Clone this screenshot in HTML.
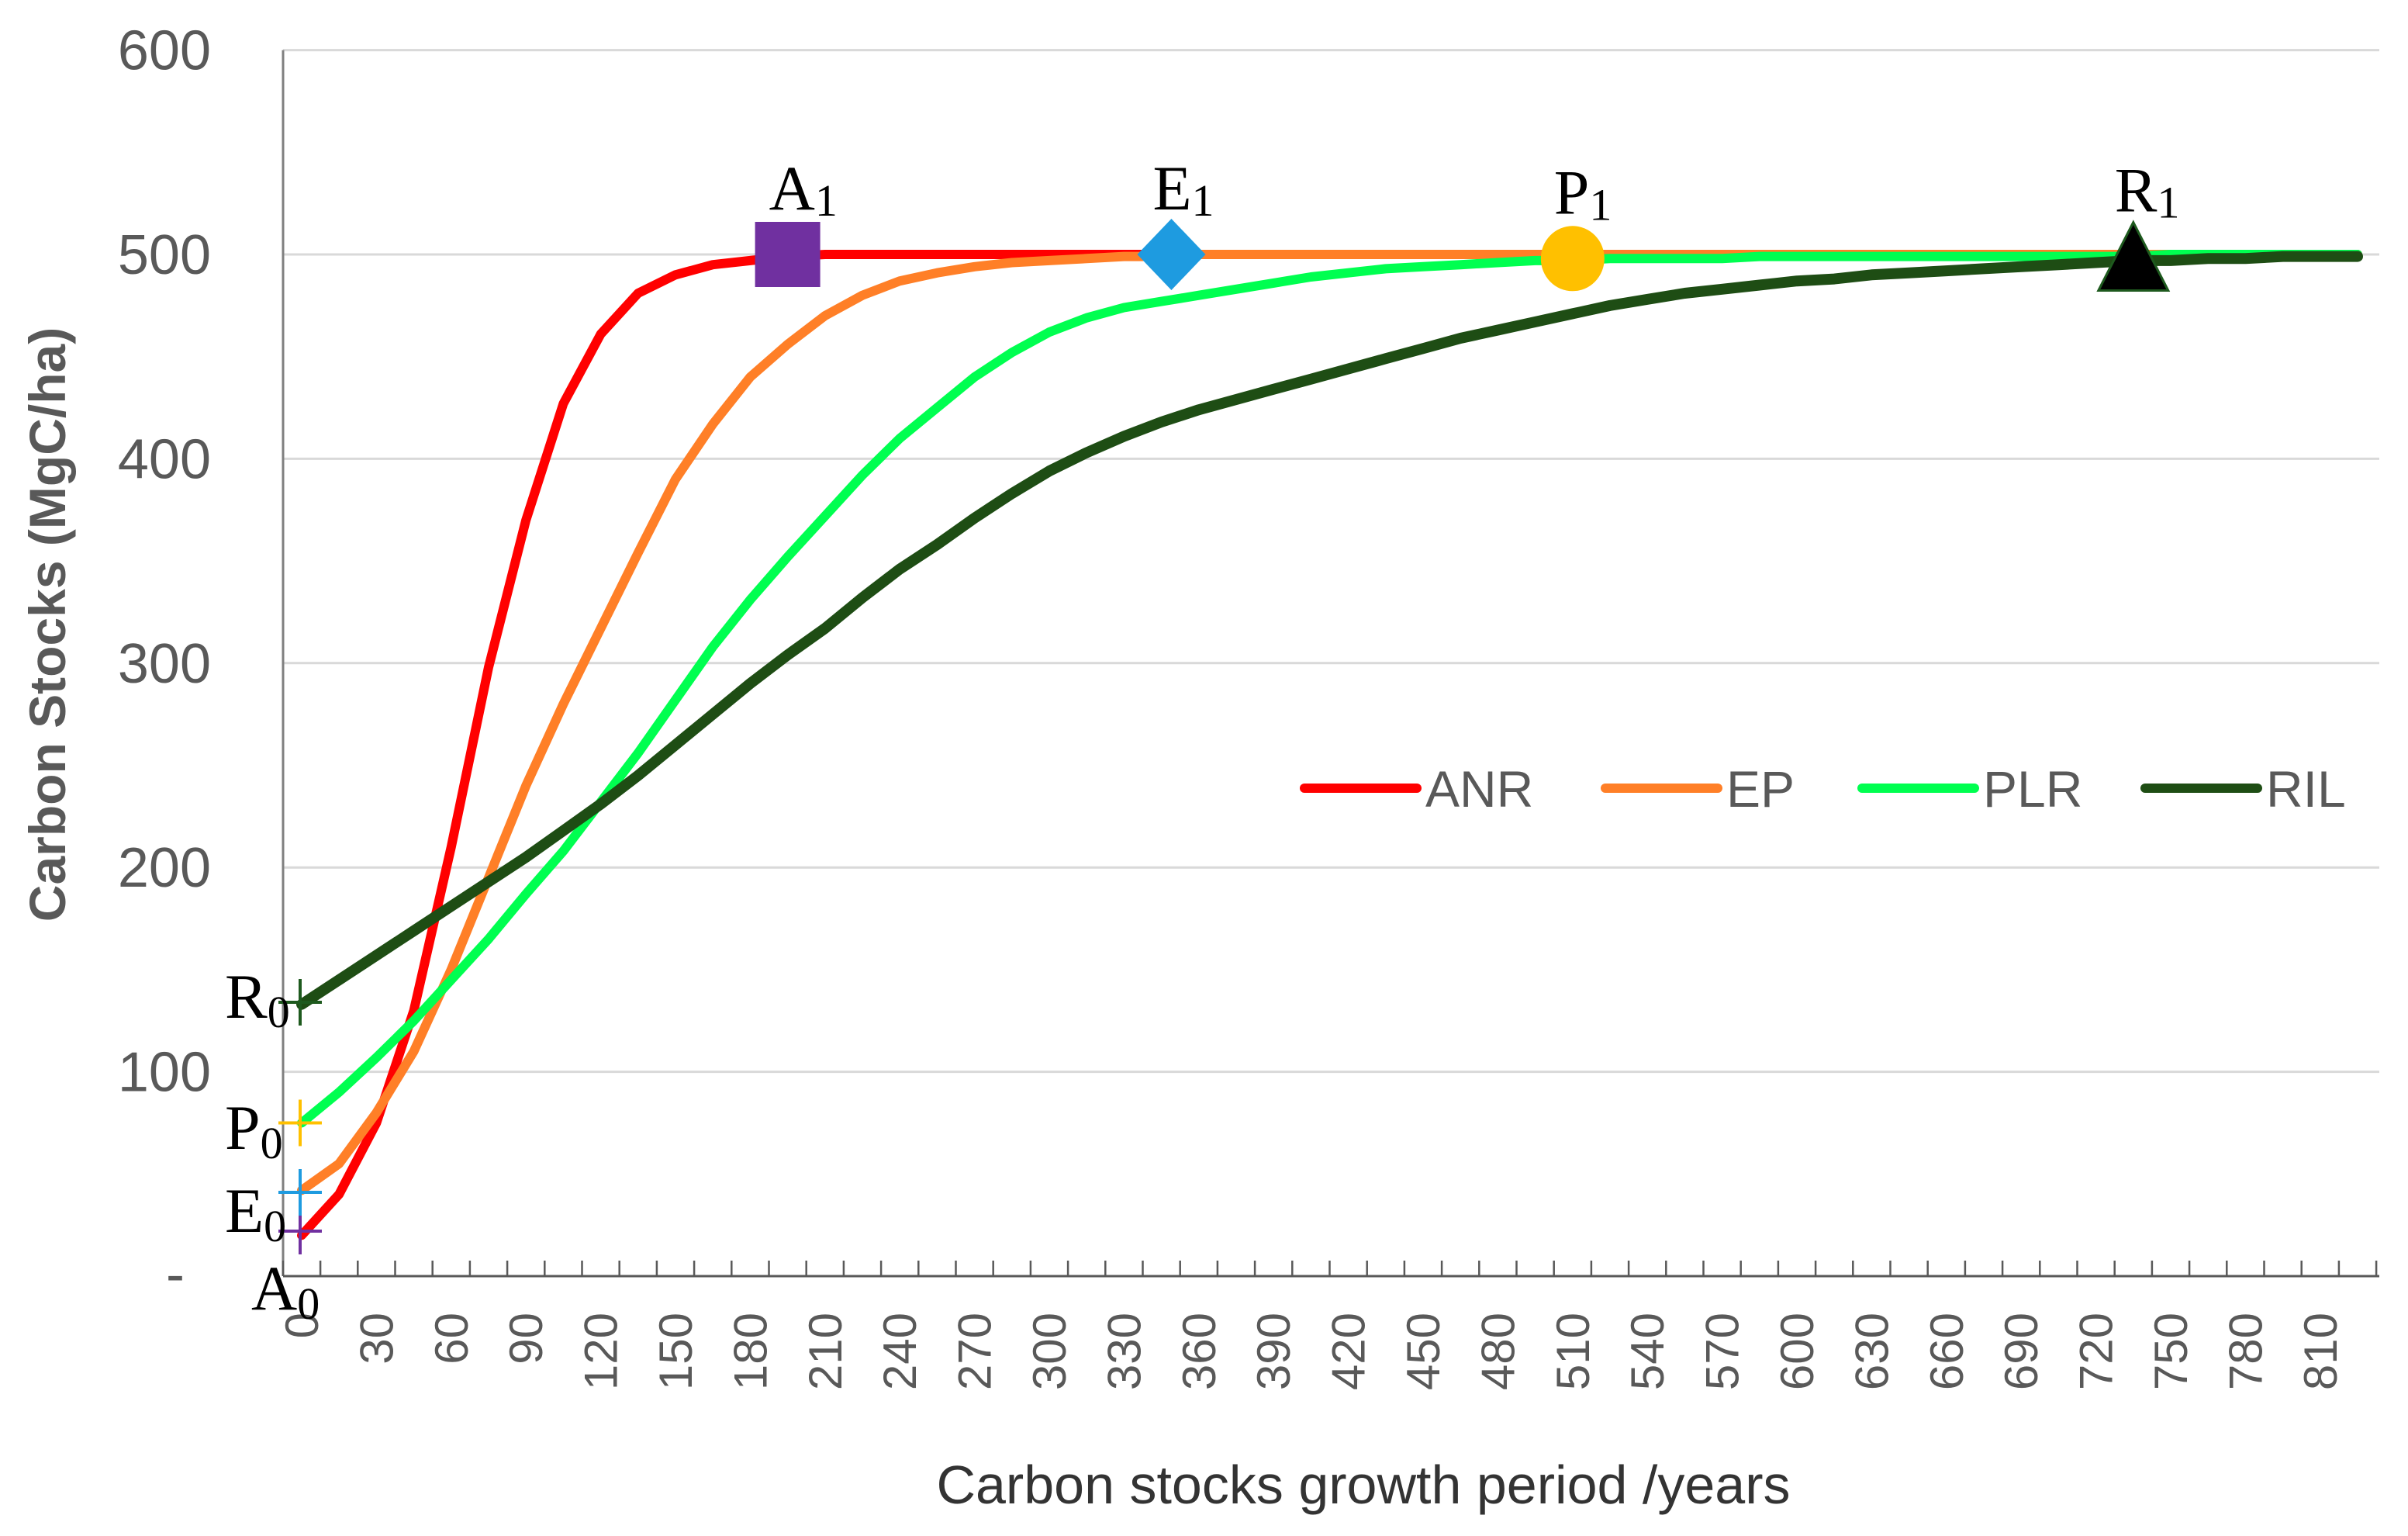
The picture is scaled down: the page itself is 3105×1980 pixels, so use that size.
<!DOCTYPE html>
<html><head><meta charset="utf-8"><style>
html,body{margin:0;padding:0;background:#fff;}
svg{display:block;}
</style></head><body>
<svg id="chart" width="3105" height="1980" viewBox="0 0 3105 1980" xmlns="http://www.w3.org/2000/svg" font-family="'Liberation Sans', sans-serif">
<g id="grid"></g>
<g id="axes"></g>
<g id="series"></g>
<g id="marks"></g>
<text transform="translate(84,805) rotate(-90)" text-anchor="middle" font-size="66" font-weight="bold" fill="#595959">Carbon Stocks (MgC/ha)</text>
<text x="1758" y="1938" text-anchor="middle" font-size="70" fill="#333">Carbon stocks growth period /years</text>
<g id="legend"></g>
</svg>
<script>
const years = [];
for (let i = 0; i <= 55; i++) years.push(i * 15);
const yTicks = [100, 200, 300, 400, 500, 600];
const seriesNames = ["ANR", "EP", "PLR", "RIL"];
const anrValues = [20,40,75,130,210,298,370,427,461,481,490,495,497,499,500,500,500,500,500,500,500,500,500,500,500,500,500,500,500,500,500,500,500,500,500,500,500,500,500,500,500,500,500,500,500,500,500,500,500,500,500,500,500,500,500,500];
const epValues = [42,55,80,110,150,195,240,280,317,354,390,417,440,456,470,480,487,491,494,496,497,498,499,499,500,500,500,500,500,500,500,500,500,500,500,500,500,500,500,500,500,500,500,500,500,500,500,500,500,500,500,500,500,500,500,500];
const plrValues = [75,90,107,125,145,165,187,208,232,256,282,308,331,352,372,392,410,425,440,452,462,469,474,477,480,483,486,489,491,493,494,495,496,497,497,498,498,498,498,499,499,499,499,499,499,499,499,499,499,499,500,500,500,500,500,500];
const rilValues = [133,145,157,169,181,193,205,218,231,245,260,275,290,304,317,332,346,358,371,383,394,403,411,418,424,429,434,439,444,449,454,459,463,467,471,475,478,481,483,485,487,488,490,491,492,493,494,495,496,497,497,498,498,499,499,499];
const seriesColors = ["#ff0000", "#ff7f27", "#00ff50", "#1e4d14"];
const seriesWidths = [12, 12, 12, 14];
const xLabels = [0,30,60,90,120,150,180,210,240,270,300,330,360,390,420,450,480,510,540,570,600,630,660,690,720,750,780,810];
const startPoints = [["A",22,"#7030a0"],["E",41,"#1e9be0"],["P",75,"#ffc000"],["R",134,"#1e5a1e"]];
const endYears = [195, 349, 510, 735];
const endValues = [500, 500, 498, 496];

const NS = "http://www.w3.org/2000/svg";
const X0 = 389, XSTEP = 48.2 / 15, Y0 = 1645, YSTEP = 2.634;
const xs = v => X0 + v * XSTEP;
const ys = v => Y0 - v * YSTEP;
function mk(tag, attrs, parent, text) {
  const e = document.createElementNS(NS, tag);
  for (const k in attrs) e.setAttribute(k, attrs[k]);
  if (text !== undefined) e.textContent = text;
  parent.appendChild(e);
  return e;
}
const grid = document.getElementById("grid"), axes = document.getElementById("axes");
yTicks.forEach(t => {
  const l = mk("line", {x1: 365, x2: 3068, y1: ys(t), y2: ys(t), stroke: "#d9d9d9", "stroke-width": 3}, grid);
  
  
  const tx = mk("text", {x: 272, y: ys(t) + 25, "text-anchor": "end", "font-size": 72, fill: "#595959"}, axes, String(t));
  
  
});
const dash = mk("text", {x: 226, y: Y0 + 22, "text-anchor": "middle", "font-size": 72, fill: "#595959"}, axes, "-");


const ya = mk("line", {x1: 365, x2: 365, y1: ys(600), y2: Y0, stroke: "#7f7f7f", "stroke-width": 3}, axes);


const xa = mk("line", {x1: 365, x2: 3068, y1: Y0, y2: Y0, stroke: "#595959", "stroke-width": 3}, axes);


for (let i = 0; i <= years.length; i++) {
  const tx = xs(-7.5 + i * 15);
  const tk = mk("line", {x1: tx, x2: tx, y1: Y0, y2: Y0 - 20, stroke: "#595959", "stroke-width": 2.5}, axes);
  
  
}
xLabels.forEach(v => {
  const t = mk("text", {transform: `translate(${xs(v) + 21},1692) rotate(-90)`, "text-anchor": "end", "font-size": 60, fill: "#595959"}, axes, String(v));
  
  
});
const sg = document.getElementById("series");
[anrValues, epValues, plrValues, rilValues].forEach((vals, s) => {
  const d = vals.map((v, i) => (i ? "L" : "M") + xs(years[i]).toFixed(1) + "," + ys(v).toFixed(1)).join(" ");
  const p = mk("path", {d: d, fill: "none", stroke: seriesColors[s], "stroke-width": seriesWidths[s], "stroke-linejoin": "round", "stroke-linecap": "round"}, sg);
  
  
});
const mg = document.getElementById("marks");
startPoints.forEach(([lab, v, col], i) => {
  const cx = xs(0) - 2, cy = ys(v);
  const c = mk("path", {d: `M${cx-28},${cy} H${cx+28} M${cx},${cy-30} V${cy+30}`, stroke: col, "stroke-width": 4}, mg);
  
  
  const lx = lab === "A" ? 324 : 290;
  const ly = lab === "A" ? 1688 : (lab === "R" ? 1312 : (lab === "P" ? 1481 : 1588));
  const t = mk("text", {x: lx, y: ly, "font-family": "'Liberation Serif', serif", "font-size": 82, fill: "#000"}, mg);
  
  
  mk("tspan", {}, t, lab);
  mk("tspan", {"font-size": 58, dy: 12}, t, "0");
});
const ex = endYears.map(xs), ey = endValues.map(ys);
const sq = mk("rect", {x: ex[0] - 42, y: ey[0] - 42, width: 84, height: 84, fill: "#7030a0"}, mg);


const dm = mk("path", {d: `M${ex[1]},${ey[1]-46} L${ex[1]+44},${ey[1]} L${ex[1]},${ey[1]+46} L${ex[1]-44},${ey[1]} Z`, fill: "#1e9be0"}, mg);


const ci = mk("ellipse", {cx: ex[2], cy: ey[2], rx: 41, ry: 42, fill: "#ffc000"}, mg);


const tr = mk("path", {d: `M${ex[3]},${ey[3]-52} L${ex[3]+45},${ey[3]+36} L${ex[3]-45},${ey[3]+36} Z`, fill: "#000", stroke: "#1e5a1e", "stroke-width": 3}, mg);


["A","E","P","R"].forEach((lab, i) => {
  const t = mk("text", {x: ex[i] - 24, y: ey[i] - (i === 3 ? 66 : 58), "font-family": "'Liberation Serif', serif", "font-size": 82, fill: "#000"}, mg);
  
  
  mk("tspan", {}, t, lab);
  mk("tspan", {"font-size": 58, dy: 8}, t, "1");
});
const lg = document.getElementById("legend");
const legX = [1682, 2070, 2401, 2766];
seriesNames.forEach((n, s) => {
  const g = mk("g", {}, lg);
  
  
  mk("line", {x1: legX[s], x2: legX[s] + 145, y1: 1016, y2: 1016, stroke: seriesColors[s], "stroke-width": 12, "stroke-linecap": "round"}, g);
  mk("text", {x: legX[s] + 156, y: 1040, "font-size": 66, fill: "#595959"}, g, n);
});
</script>
</body></html>
